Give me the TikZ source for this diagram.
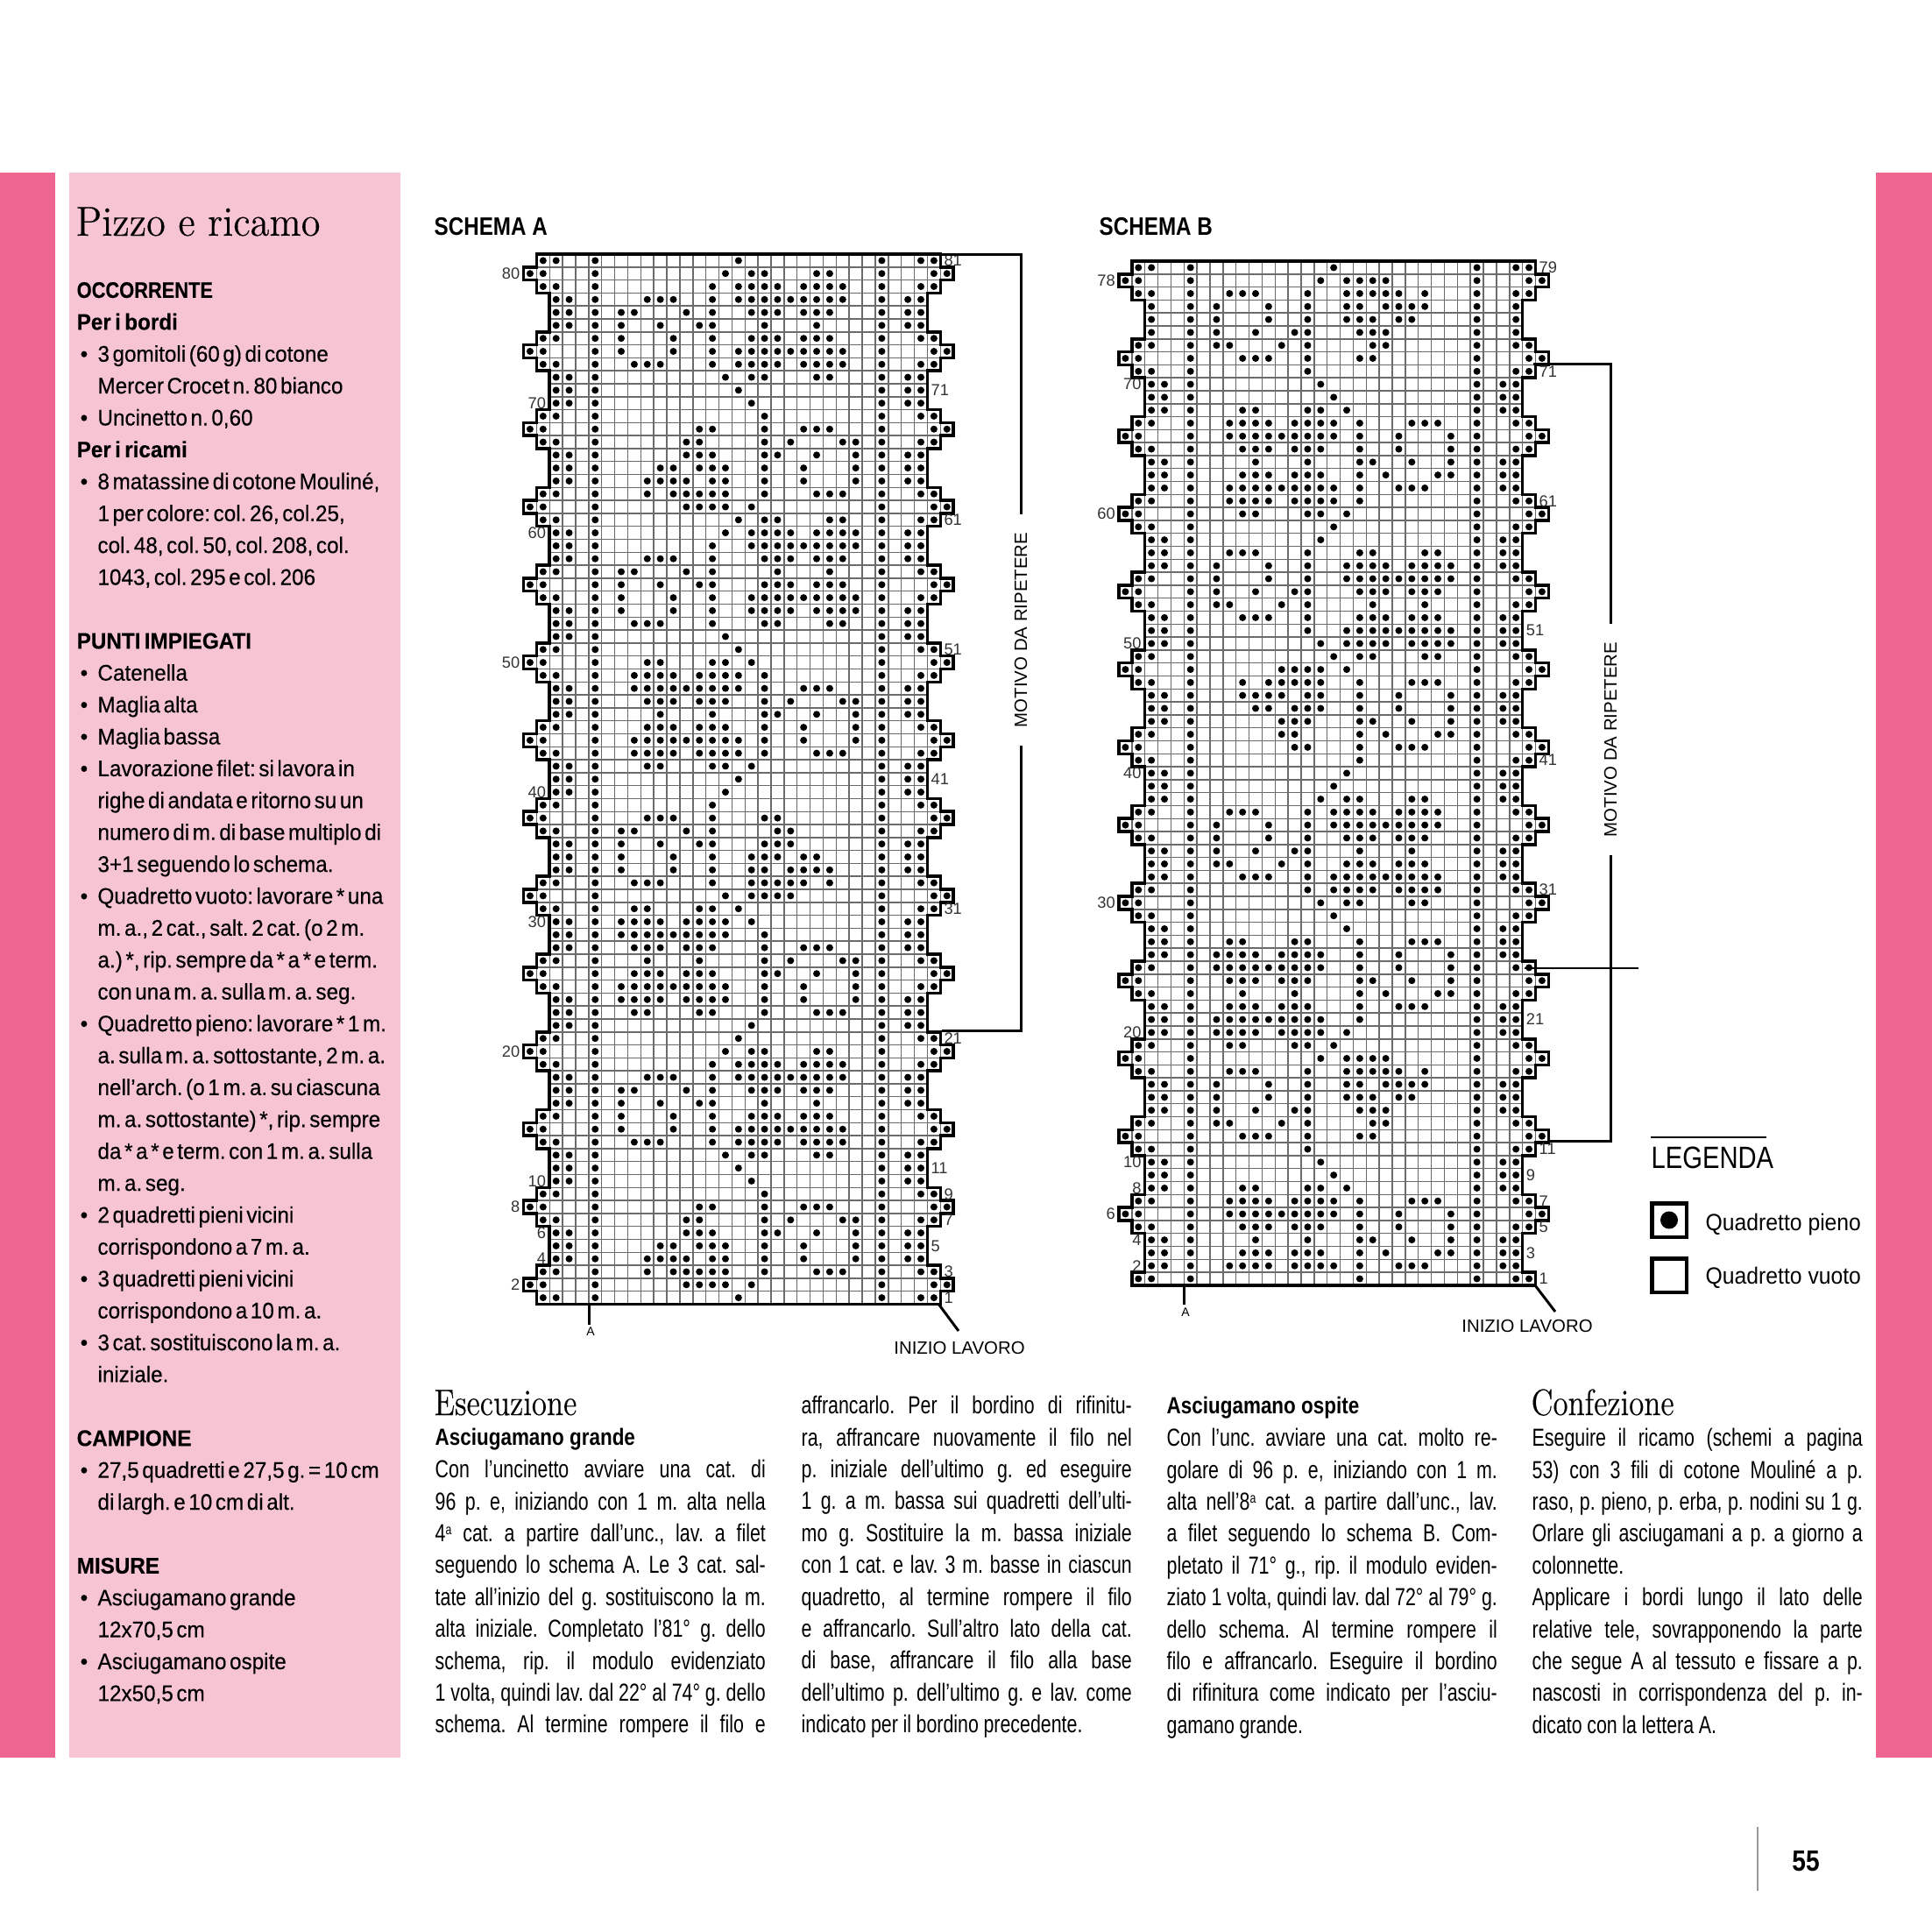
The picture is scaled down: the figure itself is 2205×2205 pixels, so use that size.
\documentclass[tikz,border=0pt]{standalone}
\usepackage{fontspec}
\usepackage{graphicx}
\newfontfamily\bodyfam[FakeStretch=0.76]{Liberation Sans}
\newfontfamily\panelfam[FakeStretch=0.945,FakeBold=0.3]{Liberation Sans}
\newfontfamily\headfam[FakeStretch=0.84]{Liberation Sans}
\newfontfamily\numfam{Liberation Sans}
\newfontfamily\titlefam[FakeBold=0.25]{Latin Modern Roman}
\definecolor{bandpink}{HTML}{EE658F}
\definecolor{panelpink}{HTML}{F7C4D3}
\usetikzlibrary{arrows.meta, positioning, calc}
\frenchspacing

% row helpers
\newcommand{\rowside}[2]{\pgfmathtruncatemacro{\rowc}{mod(#1+#2,6)}%
  \edef\rowx{\ifcase\rowc\space 2\or 1\or 0\or 1\or 2\else 2\fi}}
\newcommand{\stitch}[2]{\fill (#1-0.5,#2) circle (0.27);}

% grid, outline and fixed stitches of one chart: rows, offset, rows without inner side stitches
\newcommand{\drawchart}[4]{%
  \foreach \i in {2,...,31} \draw[gridline] (\i,0) -- (\i,#1);
  \foreach \r in {1,...,#1} {
    \rowside{\r}{#2}\let\thisx\rowx
    \ifnum\r=1 \let\lowx\thisx \else \rowside{\r-1}{#2}\let\lowx\rowx \fi
    \pgfmathtruncatemacro{\ya}{#1-\r}
    \pgfmathtruncatemacro{\yb}{#1-\r+1}
    \pgfmathsetmacro{\ym}{#1-\r+0.5}
    \pgfmathtruncatemacro{\rx}{33-\thisx}
    \pgfmathtruncatemacro{\rlow}{33-\lowx}
    \pgfmathtruncatemacro{\minx}{min(\thisx,\lowx)}
    \pgfmathtruncatemacro{\maxx}{33-\minx}
    \draw[gridline] (\minx,\yb) -- (\maxx,\yb);
    \ifnum\thisx=0
      \draw[gridline] (1,\ya) -- (1,\yb);
      \draw[gridline] (32,\ya) -- (32,\yb);
    \fi
    \draw[chartedge] (\thisx,\ya) -- (\thisx,\yb);
    \draw[chartedge] (\rx,\ya) -- (\rx,\yb);
    \draw[chartedge] (\thisx,\yb) -- (\lowx,\yb);
    \draw[chartedge] (\rx,\yb) -- (\rlow,\yb);
    % side stitches
    \pgfmathtruncatemacro{\ca}{\thisx+1}
    \pgfmathtruncatemacro{\cb}{\thisx+2}
    \pgfmathtruncatemacro{\cc}{32-\thisx}
    \pgfmathtruncatemacro{\cd}{33-\thisx}
    \stitch{\ca}{\ym} \stitch{\cd}{\ym} \stitch{6}{\ym} \stitch{28}{\ym}
    \ifnum\thisx=2 \ifnum\r<#3 \stitch{\cb}{\ym} \stitch{\cc}{\ym} \else
      \ifnum\r>#4 \stitch{\cb}{\ym} \stitch{\cc}{\ym} \fi \fi
    \else \stitch{\cb}{\ym} \stitch{\cc}{\ym} \fi
  }
  \rowside{#1}{#2}\pgfmathtruncatemacro{\rx}{33-\rowx}
  \draw[chartedge] (\rowx,0) -- (\rx,0);
  \rowside{1}{#2}\pgfmathtruncatemacro{\rx}{33-\rowx}
  \draw[chartedge] (\rowx,#1) -- (\rx,#1);
}

% row numbers: name, rows, offset, left list, right list
\newcommand{\chartnums}[5]{%
  \foreach \r in {#4} {
    \rowside{\r}{#3}\pgfmathsetmacro{\ym}{#2-\r+0.5}
    \node[rownum, anchor=east] (#1-\r) at (\rowx,\ym) {\r};
  }
  \foreach \r in {#5} {
    \rowside{\r}{#3}\pgfmathsetmacro{\ym}{#2-\r+0.5}\pgfmathtruncatemacro{\rx}{33-\rowx}
    \node[rownum, anchor=west] (#1-\r) at (\rx,\ym) {\r};
  }
}

% text lines
\newcommand{\bodyfont}{\bodyfam\fontsize{8}{10.35}\selectfont}
\newcommand{\panelfont}{\panelfam\fontsize{7.3}{10.35}\selectfont}
\newcommand{\ordsup}{\raisebox{2.4pt}{\fontsize{4.6}{5}\selectfont a}}
\newcommand{\jl}[1]{\hbox to 3.77cm{\rule{0pt}{7pt}\spaceskip=.17em plus 1fil\relax #1}}
\newcommand{\el}[1]{\hbox{\rule{0pt}{7pt}\spaceskip=.2em\relax #1}}
\newcommand{\pl}[1]{\hbox{\rule{0pt}{7pt}\spaceskip=.17em\relax\bfseries #1}}
\newcommand{\bl}[1]{\hbox{\rule{0pt}{7pt}\spaceskip=.14em\relax\hbox to 0.238cm{\hskip 0.04cm\textbullet\hss}#1}}
\newcommand{\il}[1]{\hbox{\rule{0pt}{7pt}\spaceskip=.14em\relax\hskip 0.238cm #1}}

\begin{document}
\begin{tikzpicture}[
    x=0.01cm, y=-0.01cm,
    gridline/.style={draw=black!58, line width=0.42pt},
    chartedge/.style={draw=black, line width=1pt, line cap=rect},
    bracket/.style={draw=black, line width=0.85pt},
    rownum/.style={font=\numfam\fontsize{5.2}{6}\selectfont, text=black!80, inner sep=1pt},
    chartnote/.style={font=\numfam\fontsize{5.8}{7}\selectfont, inner sep=0pt},
    schemahead/.style={font=\headfam\bfseries\fontsize{8.2}{10}\selectfont, anchor=base west, inner sep=0pt},
    bigtitle/.style={font=\titlefam\fontsize{10.6}{12}\selectfont, anchor=base west, inner sep=0pt},
    colhead/.style={font=\headfam\bfseries\fontsize{7.6}{10}\selectfont, anchor=base west, inner sep=0pt},
    textcol/.style={anchor=north west, inner sep=0pt},
    legendbox/.style={draw=black, line width=1.15pt, minimum width=0.39cm, minimum height=0.38cm, inner sep=0pt}
  ]
  \useasboundingbox (0,0) rectangle (2205,2205);

  % Pink bands
  \fill[bandpink] (0,197) rectangle (63,2006);
  \fill[bandpink] (2141,197) rectangle (2205,2006);
  \fill[panelpink] (79,197) rectangle (457,2006);

  % Side panel
  \node[anchor=base west, inner sep=0pt] (title) at (86,269) {\scalebox{0.93}[1]{\titlefam\fontsize{13.6}{15}\selectfont Pizzo e ricamo}};
  \node[textcol] (panel) at (87,314.6) {\vbox{\panelfont
    \pl{\scalebox{0.9}[1]{OCCORRENTE}}
    \pl{Per i bordi}
    \bl{3 gomitoli (60 g) di cotone}
    \il{Mercer Crocet n. 80 bianco}
    \bl{Uncinetto n. 0,60}
    \pl{Per i ricami}
    \bl{8 matassine di cotone Mouliné,}
    \il{1 per colore: col. 26, col.25,}
    \il{col. 48, col. 50, col. 208, col.}
    \il{1043, col. 295 e col. 206}
    \il{}
    \pl{PUNTI IMPIEGATI}
    \bl{Catenella}
    \bl{Maglia alta}
    \bl{Maglia bassa}
    \bl{Lavorazione filet: si lavora in}
    \il{righe di andata e ritorno su un}
    \il{numero di m. di base multiplo di}
    \il{3+1 seguendo lo schema.}
    \bl{Quadretto vuoto: lavorare * una}
    \il{m. a., 2 cat., salt. 2 cat. (o 2 m.}
    \il{a.) *, rip. sempre da * a * e term.}
    \il{con una m. a. sulla m. a. seg.}
    \bl{Quadretto pieno: lavorare * 1 m.}
    \il{a. sulla m. a. sottostante, 2 m. a.}
    \il{nell’arch. (o 1 m. a. su ciascuna}
    \il{m. a. sottostante) *, rip. sempre}
    \il{da * a * e term. con 1 m. a. sulla}
    \il{m. a. seg.}
    \bl{2 quadretti pieni vicini}
    \il{corrispondono a 7 m. a.}
    \bl{3 quadretti pieni vicini}
    \il{corrispondono a 10 m. a.}
    \bl{3 cat. sostituiscono la m. a.}
    \il{iniziale.}
    \il{}
    \pl{CAMPIONE}
    \bl{27,5 quadretti e 27,5 g. = 10 cm}
    \il{di largh. e 10 cm di alt.}
    \il{}
    \pl{MISURE}
    \bl{Asciugamano grande}
    \il{12x70,5 cm}
    \bl{Asciugamano ospite}
    \il{12x50,5 cm}
  }};

  % Schema A
  \node[schemahead] (headA) at (495,268) {SCHEMA A};
  \begin{scope}[shift={(597.5,290)}, x=0.1486cm, y=-0.14787cm]
    \drawchart{81}{0}{0}{0}
    \foreach \r/\cols in {
      81/{17}, 80/{16,18,19,23,24}, 79/{15,17,18,19,20,22,23,24,25},
      78/{10,11,12,15,17,18,19,20,21,22,23,24,25}, 77/{8,9,13,15,18,19,20,22,23,24},
      76/{8,11,14,15,19,23}, 75/{8,12,15,18,19,20,22,23,24},
      74/{8,12,15,17,18,19,20,21,22,23,24,25}, 73/{9,10,11,15,17,18,19,20,22,23,24,25},
      72/{16,18,19,23,24}, 71/{17}, 70/{18}, 69/{19}, 68/{14,15,19,22,23,24},
      67/{13,14,19,21,25,26}, 66/{13,14,15,19,20,23,26}, 65/{11,12,14,15,16,19,22,26},
      64/{10,11,12,13,15,16,19,22,26}, 63/{10,12,13,14,15,16,19,23,24,25},
      62/{13,14,15,16,18}, 61/{17,19,20,24,25}, 60/{16,18,19,20,21,23,24,25,26},
      59/{15,18,19,20,21,22,23,24,25,26}, 58/{10,11,12,15,19,20,21,23,24,25},
      57/{8,9,13,15,20,24}, 56/{8,11,14,15,19,20,21,23,24,25},
      55/{8,12,15,18,19,20,21,22,23,24,25,26}, 54/{8,12,15,18,19,20,21,23,24,25,26},
      53/{9,10,11,15,19,20,24,25}, 52/{16}, 51/{17}, 50/{10,11,15,16,18},
      49/{9,10,11,12,14,15,16,17,19}, 48/{9,10,11,12,13,14,15,16,17,19,22,23,24},
      47/{10,11,12,14,15,16,19,21,25,26}, 46/{11,15,19,20,23,26},
      45/{10,11,12,14,15,16,19,22,26}, 44/{9,10,11,12,13,14,15,16,17,19,22,26},
      43/{9,10,11,12,14,15,16,17,19,23,24,25}, 42/{10,11,15,16,18}, 41/{17}, 40/{16}, 39/{15},
      38/{10,11,12,15,19,20}, 37/{8,9,13,15,20,21}, 36/{8,11,14,15,19,20,21},
      35/{8,12,15,18,19,20,22,23}, 34/{8,12,15,18,19,21,22,23,24},
      33/{9,10,11,15,18,19,20,21,22,24}, 32/{16,18,19,20,21}, 31/{9,10,14,15,17},
      30/{8,9,10,11,13,14,15,16,18}, 29/{8,9,10,11,12,13,14,15,16,19},
      28/{9,10,11,13,14,15,19,22,23,24}, 27/{10,14,19,21,25,26},
      26/{9,10,11,13,14,15,19,20,23,26}, 25/{8,9,10,11,12,13,14,15,16,19,22,26},
      24/{8,9,10,11,13,14,15,16,19,22,26}, 23/{9,10,14,15,19,23,24,25},
      22/{18}, 21/{17}, 20/{16,18,19,23,24}, 19/{15,17,18,19,20,22,23,24,25},
      18/{10,11,12,15,17,18,19,20,21,22,23,24,25}, 17/{8,9,13,15,18,19,20,22,23,24},
      16/{8,11,14,15,19,23}, 15/{8,12,15,18,19,20,22,23,24},
      14/{8,12,15,17,18,19,20,21,22,23,24,25}, 13/{9,10,11,15,17,18,19,20,22,23,24,25},
      12/{16,18,19,23,24}, 11/{17}, 10/{18}, 9/{19}, 8/{14,15,19,22,23,24},
      7/{13,14,19,21,25,26}, 6/{13,14,15,19,20,23,26}, 5/{11,12,14,15,16,19,22,26},
      4/{10,11,12,13,15,16,19,22,26}, 3/{10,12,13,14,15,16,19,23,24,25},
      2/{13,14,15,16,18}, 1/{17}}
      \foreach \c in \cols \stitch{\c}{81-\r+0.5};
    \chartnums{numA}{81}{0}{80,70,60,50,40,30,20,10,8,6,4,2}{81,71,61,51,41,31,21,11,9,7,5,3,1}
  \end{scope}

  \coordinate (Atop) at (1073,290);
  \coordinate (Aend) at (1075,1176);
  \node[chartnote, rotate=90, inner xsep=0.2cm] (motivoA) at (1165,719) {MOTIVO DA RIPETERE};
  \draw[bracket] (Atop) -| (motivoA.east);
  \draw[bracket] (Aend) -| (motivoA.west);
  \coordinate (Afoot) at (672.7,1487.7);
  \node[font=\numfam\fontsize{4}{5}\selectfont, inner sep=0pt] (markA) at (674,1520) {A};
  \draw[bracket] (Afoot) -- (672.7,1512);
  \coordinate (Astart) at (1071,1488);
  \node[chartnote] (startA) at (1095,1538) {INIZIO LAVORO};
  \draw[bracket] (Astart) -- (1094,1519);

  % Schema B
  \node[schemahead] (headB) at (1254,268) {SCHEMA B};
  \begin{scope}[shift={(1277,298)}, x=0.1485cm, y=-0.14787cm]
    \drawchart{79}{2}{74}{76}
    \foreach \r/\cols in {
      79/{17}, 78/{16,18,19,20,21}, 77/{9,10,11,15,18,19,20,21,22,24},
      76/{8,12,15,18,19,21,22,23,24}, 75/{8,12,15,18,19,20,22,23}, 74/{8,11,14,15,19,20,21},
      73/{8,9,13,15,20,21}, 72/{10,11,12,15,19,20}, 71/{15}, 70/{16}, 69/{17},
      68/{10,11,15,16,18}, 67/{9,10,11,12,14,15,16,17,19,23,24,25},
      66/{9,10,11,12,13,14,15,16,17,19,22,26}, 65/{10,11,12,14,15,16,19,22,26},
      64/{11,15,19,20,23,26}, 63/{10,11,12,14,15,16,19,21,25,26},
      62/{9,10,11,12,13,14,15,16,17,19,22,23,24}, 61/{9,10,11,12,14,15,16,17,19},
      60/{10,11,15,16,18}, 59/{17}, 58/{16}, 57/{9,10,11,15,19,20,24,25},
      56/{8,12,15,18,19,20,21,23,24,25,26}, 55/{8,12,15,18,19,20,21,22,23,24,25,26},
      54/{8,11,14,15,19,20,21,23,24,25}, 53/{8,9,13,15,20,24},
      52/{10,11,12,15,19,20,21,23,24,25}, 51/{15,18,19,20,21,22,23,24,25,26},
      50/{16,18,19,20,21,23,24,25,26}, 49/{17,19,20,24,25}, 48/{13,14,15,16,18},
      47/{10,12,13,14,15,16,19,23,24,25}, 46/{10,11,12,13,15,16,19,22,26},
      45/{11,12,14,15,16,19,22,26}, 44/{13,14,15,19,20,23,26}, 43/{13,14,19,21,25,26},
      42/{14,15,19,22,23,24}, 41/{19}, 40/{18}, 39/{17}, 38/{16,18,19,23,24},
      37/{9,10,11,15,17,18,19,20,22,23,24,25}, 36/{8,12,15,17,18,19,20,21,22,23,24,25},
      35/{8,12,15,18,19,20,22,23,24}, 34/{8,11,14,15,19,23}, 33/{8,9,13,15,18,19,20,22,23,24},
      32/{10,11,12,15,17,18,19,20,21,22,23,24,25}, 31/{15,17,18,19,20,22,23,24,25},
      30/{16,18,19,23,24}, 29/{17}, 28/{18}, 27/{9,10,14,15,19,23,24,25},
      26/{8,9,10,11,13,14,15,16,19,22,26}, 25/{8,9,10,11,12,13,14,15,16,19,22,26},
      24/{9,10,11,13,14,15,19,20,23,26}, 23/{10,14,19,21,25,26}, 22/{9,10,11,13,14,15,19,22,23,24},
      21/{8,9,10,11,12,13,14,15,16,19}, 20/{8,9,10,11,13,14,15,16,18}, 19/{9,10,14,15,17},
      18/{16,18,19,20,21}, 17/{9,10,11,15,18,19,20,21,22,24}, 16/{8,12,15,18,19,21,22,23,24},
      15/{8,12,15,18,19,20,22,23}, 14/{8,11,14,15,19,20,21}, 13/{8,9,13,15,20,21},
      12/{10,11,12,15,19,20}, 11/{15}, 10/{16}, 9/{17}, 8/{10,11,15,16,18},
      7/{9,10,11,12,14,15,16,17,19,23,24,25}, 6/{9,10,11,12,13,14,15,16,17,19,22,26},
      5/{10,11,12,14,15,16,19,22,26}, 4/{11,15,19,20,23,26}, 3/{10,11,12,14,15,16,19,21,25,26},
      2/{9,10,11,12,14,15,16,17,19,22,23,24}, 1/{19}}
      \foreach \c in \cols \stitch{\c}{79-\r+0.5};
    \chartnums{numB}{79}{2}{78,70,60,50,40,30,20,10,8,6,4,2}{79,71,61,51,41,31,21,11,9,7,5,3,1}
  \end{scope}

  \coordinate (Btop) at (1750,415);
  \coordinate (Bend) at (1767,1302.5);
  \coordinate (Bmid) at (1740,1104.7);
  \coordinate (Bmidend) at (1870,1104.7);
  \node[chartnote, rotate=90, inner xsep=0.2cm] (motivoB) at (1838,844) {MOTIVO DA RIPETERE};
  \draw[bracket] (Btop) -| (motivoB.east);
  \draw[bracket] (Bend) -| (motivoB.west);
  \draw[draw=black, line width=0.55pt] (Bmid) -- (Bmidend);
  \coordinate (Bfoot) at (1351.5,1466.7);
  \node[font=\numfam\fontsize{4}{5}\selectfont, inner sep=0pt] (markB) at (1353,1498) {A};
  \draw[bracket] (Bfoot) -- (1351.5,1489);
  \coordinate (Bstart) at (1752,1467);
  \node[chartnote] (startB) at (1743,1513) {INIZIO LAVORO};
  \draw[bracket] (Bstart) -- (1775,1497);

  % Legend
  \coordinate (legA) at (1884,1298);
  \coordinate (legB) at (2016,1298);
  \draw[draw=black, line width=0.45pt] (legA) -- (legB);
  \node[anchor=base west, inner sep=0pt] (legtitle) at (1884,1333.5) {\scalebox{0.83}[1]{\numfam\fontsize{10}{12}\selectfont LEGENDA}};
  \node[legendbox] (fullbox) at (1905,1392.5) {};
  \fill (fullbox.center) circle (10);
  \node[legendbox] (emptybox) at (1905,1455.5) {};
  \node[anchor=base west, inner sep=0pt] (fulltext) at (1946,1404) {\scalebox{0.925}[1]{\numfam\fontsize{7.6}{10}\selectfont Quadretto pieno}};
  \node[anchor=base west, inner sep=0pt] (emptytext) at (1946,1465) {\scalebox{0.925}[1]{\numfam\fontsize{7.6}{10}\selectfont Quadretto vuoto}};

  % Esecuzione
  \node[bigtitle] (esec) at (495,1615) {\scalebox{0.83}[1]{\fontsize{12}{14}\selectfont Esecuzione}};
  \node[colhead] (grande) at (496,1649) {Asciugamano grande};
  \node[textcol] (col1) at (496,1661.4) {\vbox{\bodyfont
    \jl{Con l’uncinetto avviare una cat. di}
    \jl{96 p. e, iniziando con 1 m. alta nella}
    \jl{4\ordsup\ cat. a partire dall’unc., lav. a filet}
    \jl{seguendo lo schema A. Le 3 cat. sal-}
    \jl{tate all’inizio del g. sostituiscono la m.}
    \jl{alta iniziale. Completato l’81° g. dello}
    \jl{schema, rip. il modulo evidenziato}
    \jl{1 volta, quindi lav. dal 22° al 74° g. dello}
    \jl{schema. Al termine rompere il filo e}
  }};
  \node[textcol] (col2) at (914,1588.4) {\vbox{\bodyfont
    \jl{affrancarlo. Per il bordino di rifinitu-}
    \jl{ra, affrancare nuovamente il filo nel}
    \jl{p. iniziale dell’ultimo g. ed eseguire}
    \jl{1 g. a m. bassa sui quadretti dell’ulti-}
    \jl{mo g. Sostituire la m. bassa iniziale}
    \jl{con 1 cat. e lav. 3 m. basse in ciascun}
    \jl{quadretto, al termine rompere il filo}
    \jl{e affrancarlo. Sull’altro lato della cat.}
    \jl{di base, affrancare il filo alla base}
    \jl{dell’ultimo p. dell’ultimo g. e lav. come}
    \el{indicato per il bordino precedente.}
  }};

  % Asciugamano ospite
  \node[colhead] (ospite) at (1331,1613) {Asciugamano ospite};
  \node[textcol] (col3) at (1331,1625.4) {\vbox{\bodyfont
    \jl{Con l’unc. avviare una cat. molto re-}
    \jl{golare di 96 p. e, iniziando con 1 m.}
    \jl{alta nell’8\ordsup\ cat. a partire dall’unc., lav.}
    \jl{a filet seguendo lo schema B.  Com-}
    \jl{pletato il 71° g., rip. il modulo eviden-}
    \jl{ziato 1 volta, quindi lav. dal 72° al 79° g.}
    \jl{dello schema. Al termine rompere il}
    \jl{filo e affrancarlo. Eseguire il bordino}
    \jl{di rifinitura come indicato per l’asciu-}
    \el{gamano grande.}
  }};

  % Confezione
  \node[bigtitle] (conf) at (1747,1615) {\scalebox{0.83}[1]{\fontsize{12}{14}\selectfont Confezione}};
  \node[textcol] (col4) at (1748,1625.4) {\vbox{\bodyfont
    \jl{Eseguire il ricamo (schemi a pagina}
    \jl{53) con 3 fili di cotone Mouliné a p.}
    \jl{raso, p. pieno, p. erba, p. nodini su 1 g.}
    \jl{Orlare gli asciugamani a p. a giorno a}
    \el{colonnette.}
    \jl{Applicare i bordi lungo il lato delle}
    \jl{relative tele, sovrapponendo la parte}
    \jl{che segue A al tessuto e fissare a p.}
    \jl{nascosti in corrispondenza del p. in-}
    \el{dicato con la lettera A.}
  }};

  % Page number
  \coordinate (ruleA) at (2006,2085);
  \coordinate (ruleB) at (2006,2158);
  \draw[draw=black!40, line width=0.3pt] (ruleA) -- (ruleB);
  \node[font=\headfam\bfseries\fontsize{9.5}{11}\selectfont, inner sep=0pt] (pagenum) at (2061,2124) {55};
\end{tikzpicture}
\end{document}
